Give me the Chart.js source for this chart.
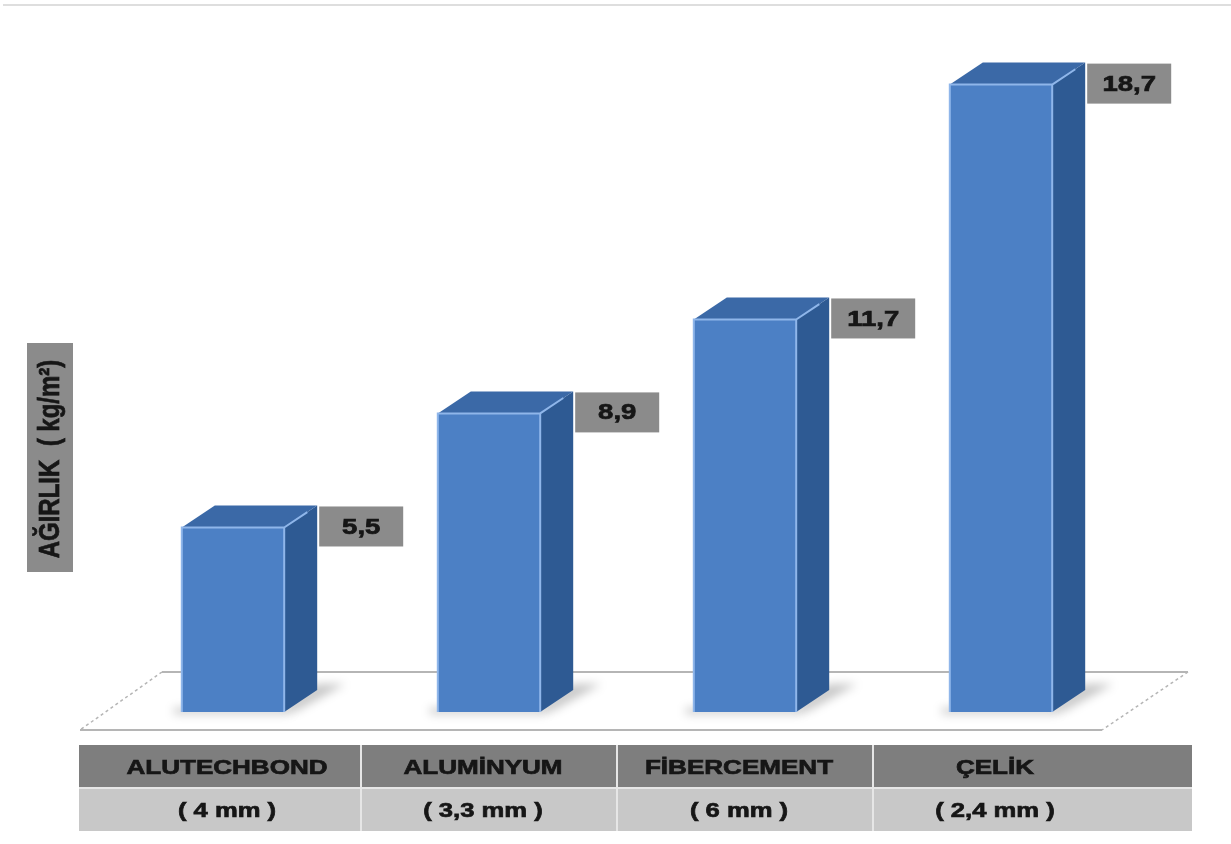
<!DOCTYPE html>
<html>
<head>
<meta charset="utf-8">
<script src="https://cdn.jsdelivr.net/npm/chart.js@4"></script>
<style>
  body { margin: 0; background: #ffffff; }
  #wrap { width: 1231px; height: 844px; position: relative; }
</style>
</head>
<body>
<div id="wrap"><canvas id="chart"></canvas></div>
<script>
var materials = ['ALUTECHBOND', 'ALUMİNYUM', 'FİBERCEMENT', 'ÇELİK'];
var thickness = ['( 4 mm )', '( 3,3 mm )', '( 6 mm )', '( 2,4 mm )'];
var weights = [5.5, 8.9, 11.7, 18.7];
var valueLabels = ['5,5', '8,9', '11,7', '18,7'];
var axisTitle = 'AĞIRLIK  ( kg/m²)';

var DX = 33, DY = 22;
var FONT = '"Liberation Sans", Arial, sans-serif';

// bold text, a little heavier and stretched sideways like the original scan
function stretchedText(ctx, text, x, y, sx) {
  ctx.save();
  ctx.translate(x, y);
  ctx.scale(sx, 1);
  ctx.lineWidth = 0.7;
  ctx.strokeStyle = ctx.fillStyle;
  ctx.fillText(text, 0, 0);
  ctx.strokeText(text, 0, 0);
  ctx.restore();
}

var scenePlugin = {
  id: 'scene',
  beforeDraw: function (chart) {
    var ctx = chart.ctx;
    ctx.save();
    ctx.fillStyle = '#ffffff';
    ctx.fillRect(0, 0, chart.width, chart.height);
    // thin line at the top
    ctx.strokeStyle = '#dedede';
    ctx.lineWidth = 2;
    ctx.beginPath();
    ctx.moveTo(3, 5);
    ctx.lineTo(chart.width, 5);
    ctx.stroke();
    ctx.restore();
  },
  beforeDatasetsDraw: function (chart) {
    var ctx = chart.ctx;
    var a = chart.chartArea;
    var back = a.bottom - 40, front = a.bottom + 18;
    ctx.save();
    // floor
    ctx.strokeStyle = '#b5b5b5';
    ctx.lineWidth = 2;
    ctx.beginPath();
    ctx.moveTo(a.left + 57, back);
    ctx.lineTo(a.right + 59, back);
    ctx.moveTo(a.left - 25, front);
    ctx.lineTo(a.right - 27, front);
    ctx.stroke();
    ctx.setLineDash([3, 3]);
    ctx.lineWidth = 1.5;
    ctx.beginPath();
    ctx.moveTo(a.left + 57, back);
    ctx.lineTo(a.left - 25, front);
    ctx.moveTo(a.right + 59, back);
    ctx.lineTo(a.right - 27, front);
    ctx.stroke();
    ctx.setLineDash([]);
    // shadows on the floor
    var bars = chart.getDatasetMeta(0).data;
    ctx.filter = 'blur(5px)';
    ctx.fillStyle = 'rgba(0,0,0,0.22)';
    bars.forEach(function (b) {
      var r = b.x + b.width / 2;
      ctx.beginPath();
      ctx.moveTo(r, b.base - 6);
      ctx.lineTo(r + DX, b.base - DY - 6);
      ctx.lineTo(r + DX + 28, b.base - DY - 6);
      ctx.lineTo(r + 10, b.base);
      ctx.closePath();
      ctx.fill();
      ctx.fillRect(b.x - b.width / 2 - 8, b.base - 4, b.width + 14, 6);
    });
    ctx.filter = 'none';
    ctx.restore();
  },
  afterDatasetsDraw: function (chart) {
    var ctx = chart.ctx;
    var bars = chart.getDatasetMeta(0).data;
    ctx.save();
    bars.forEach(function (b, i) {
      var l = b.x - b.width / 2, r = b.x + b.width / 2;
      var t = b.y, bot = b.base;
      // side face
      ctx.fillStyle = '#2e5a93';
      ctx.beginPath();
      ctx.moveTo(r, t);
      ctx.lineTo(r + DX, t - DY);
      ctx.lineTo(r + DX, bot - DY);
      ctx.lineTo(r, bot);
      ctx.closePath();
      ctx.fill();
      // top face
      ctx.fillStyle = '#3b69a7';
      ctx.beginPath();
      ctx.moveTo(l, t);
      ctx.lineTo(l + DX, t - DY);
      ctx.lineTo(r + DX, t - DY);
      ctx.lineTo(r, t);
      ctx.closePath();
      ctx.fill();
      // highlight edges
      ctx.strokeStyle = '#8fb6ea';
      ctx.lineWidth = 2;
      ctx.beginPath();
      ctx.moveTo(l, bot);
      ctx.lineTo(l, t);
      ctx.lineTo(r, t);
      ctx.lineTo(r, bot);
      ctx.moveTo(r, t);
      ctx.lineTo(r + DX * 0.7, t - DY * 0.7);
      ctx.stroke();

      // value label box
      var bx = r + DX + 2, by = t - DY + 1;
      ctx.fillStyle = '#8b8b8b';
      ctx.fillRect(bx, by, 84, 40);
      ctx.fillStyle = '#161616';
      ctx.font = 'bold 22px ' + FONT;
      ctx.textAlign = 'center';
      ctx.textBaseline = 'middle';
      stretchedText(ctx, valueLabels[i], bx + 42, by + 21, 1.25);
    });
    ctx.restore();
  },
  afterDraw: function (chart) {
    var ctx = chart.ctx;
    var xs = chart.scales.x;
    ctx.save();
    // y-axis title box
    ctx.fillStyle = '#8b8b8b';
    ctx.fillRect(27, 343, 46, 229);
    ctx.translate(50, 459);
    ctx.rotate(-Math.PI / 2);
    ctx.scale(1, 1.2);
    ctx.fillStyle = '#161616';
    ctx.strokeStyle = '#161616';
    ctx.lineWidth = 0.6;
    ctx.font = 'bold 24px ' + FONT;
    ctx.textAlign = 'center';
    ctx.textBaseline = 'middle';
    ctx.fillText(axisTitle, 0, 1);
    ctx.strokeText(axisTitle, 0, 1);
    ctx.restore();

    // table under the chart
    ctx.save();
    var left = 79, right = 1192;
    ctx.fillStyle = '#7e7e7e';
    ctx.fillRect(left, 745, right - left, 42);
    ctx.fillStyle = '#c8c8c8';
    ctx.fillRect(left, 789, right - left, 42);
    ctx.strokeStyle = '#e6e6e6';
    ctx.lineWidth = 2;
    ctx.beginPath();
    for (var i = 1; i < materials.length; i++) {
      var mx = (xs.getPixelForValue(i - 1) + xs.getPixelForValue(i)) / 2;
      ctx.moveTo(mx, 745);
      ctx.lineTo(mx, 831);
    }
    ctx.moveTo(left, 788);
    ctx.lineTo(right, 788);
    ctx.stroke();
    ctx.fillStyle = '#161616';
    ctx.textAlign = 'center';
    ctx.textBaseline = 'middle';
    ctx.font = 'bold 21px ' + FONT;
    materials.forEach(function (m, i) {
      var cx = xs.getPixelForValue(i);
      stretchedText(ctx, m, cx - 6, 768, 1.24);
      stretchedText(ctx, thickness[i], cx - 6, 811, 1.22);
    });
    ctx.restore();
  }
};

new Chart(document.getElementById('chart'), {
  type: 'bar',
  data: {
    labels: materials,
    datasets: [{
      data: weights,
      backgroundColor: '#4c80c5',
      borderWidth: 0,
      barPercentage: 0.8,
      categoryPercentage: 0.5
    }]
  },
  options: {
    responsive: true,
    maintainAspectRatio: false,
    animation: false,
    layout: { padding: { left: 105, right: 102, top: 41, bottom: 132 } },
    scales: {
      x: { display: false },
      y: { display: false, min: 0, max: 20 }
    },
    plugins: {
      legend: { display: false },
      tooltip: { enabled: false }
    }
  },
  plugins: [scenePlugin]
});
</script>
</body>
</html>
